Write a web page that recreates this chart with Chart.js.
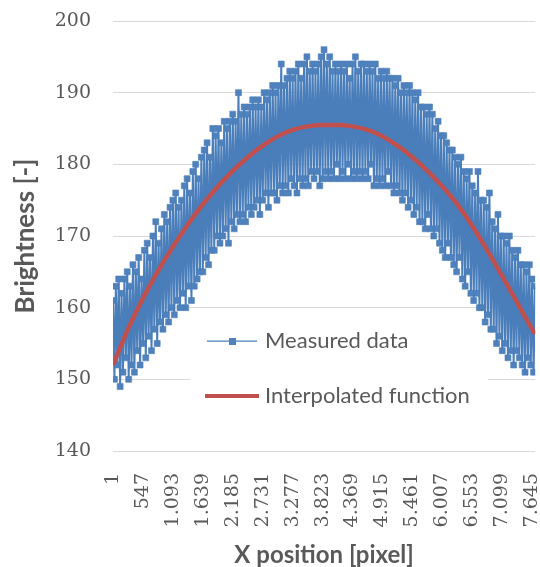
<!DOCTYPE html>
<html>
<head>
<meta charset="utf-8">
<script src="https://cdn.jsdelivr.net/npm/chart.js@4.4.0/dist/chart.umd.min.js"></script>
<style>
  html, body { margin: 0; padding: 0; background: #fff; }
  #wrap { width: 540px; height: 567px; }
</style>
</head>
<body>
<div id="wrap"><canvas id="chart" width="540" height="567"></canvas></div>
<script>
// measured brightness, one sample every SAMPLE_STEP pixels along X
const SAMPLE_START = 1;
const SAMPLE_STEP = 26;
const MEASURED = [
  161, 150, 163, 152, 164, 149, 162,  151, 164, 153, 165, 150, 163, 152,
  166, 151, 165, 154, 167, 152, 164,  155, 168, 153, 169, 156, 167, 154,
  170, 157, 172, 155, 169, 158, 171,  157, 173, 159, 172, 158, 174, 160,
  175, 159, 176, 161, 174, 160, 175,  162, 177, 160, 178, 163, 176, 161,
  179, 163, 180, 164, 178, 165, 181,  165, 182, 167, 183, 166, 181, 168,
  185, 168, 184, 170, 185, 169, 183,  170, 186, 171, 185, 169, 186, 172,
  187, 171, 186, 173, 190, 172, 187,  173, 188, 172, 187, 174, 188, 173,
  189, 174, 188, 175, 189, 173, 188,  175, 190, 176, 189, 174, 190, 176,
  191, 176, 190, 175, 191, 177, 194,  176, 191, 177, 192, 176, 193, 178,
  192, 177, 193, 176, 194, 178, 192,  177, 194, 178, 195, 177, 193, 179,
  194, 178, 193, 179, 194, 177, 195,  178, 196, 179, 194, 178, 195, 179,
  193, 178, 194, 180, 193, 178, 194,  179, 193, 178, 194, 180, 192, 178,
  194, 179, 195, 178, 193, 179, 194,  178, 194, 179, 193, 178, 194, 180,
  193, 177, 194, 178, 192, 177, 193,  178, 192, 177, 193, 179, 192, 177,
  192, 176, 191, 177, 192, 176, 190,  175, 191, 176, 190, 174, 191, 175,
  190, 173, 189, 174, 190, 172, 188,  172, 188, 171, 187, 173, 188, 171,
  187, 170, 185, 171, 186, 169, 184,  168, 184, 167, 183, 169, 182, 167,
  182, 166, 181, 165, 180, 167, 181,  164, 179, 163, 178, 165, 179, 162,
  177, 161, 176, 162, 179, 160, 175,  160, 175, 158, 174, 159, 176, 157,
  172, 157, 171, 155, 173, 156, 170,  154, 170, 155, 169, 153, 170, 154,
  168, 152, 167, 154, 168, 153, 166,  152, 166, 151, 165, 153, 166, 152,
  164, 151, 163
];

// interpolated function
const INTERP_X = [1, 274, 547, 820, 1093, 1366, 1639, 1912, 2185, 2458, 2731, 3004, 3277, 3550, 3823,
  4096, 4369, 4642, 4915, 5188, 5461, 5734, 6007, 6280, 6553, 6826, 7099, 7372, 7645, 7700];
const INTERP_Y = [152.0, 157.0, 161.3, 165.1, 168.5, 171.6, 174.4, 176.9, 179.1, 181.0, 182.6, 183.9, 184.8, 185.3, 185.5,
  185.5, 185.3, 184.8, 183.9, 182.6, 181.0, 179.1, 176.9, 174.4, 171.4, 168.0, 164.4, 160.7, 157.0, 156.3];

const X_TICKS = [1, 547, 1093, 1639, 2185, 2731, 3277, 3823, 4369, 4915, 5461, 6007, 6553, 7099, 7645];
const Y_TICKS = [140, 150, 160, 170, 180, 190, 200];

const TEXT = '#595959';
const BLUE = '#4a7ebb';
const RED = '#c0504d';

function fmtThousands(v) {
  if (v < 1000) return String(v);
  return Math.floor(v / 1000) + '.' + String(v % 1000).padStart(3, '0');
}

const insideLegend = {
  id: 'insideLegend',
  beforeDatasetsDraw(chart) {
    // legend box hides the gridlines behind it
    const { ctx } = chart;
    ctx.save();
    ctx.fillStyle = '#fff';
    ctx.fillRect(190, 318, 298, 102);
    ctx.restore();
  },
  afterDatasetsDraw(chart) {
    const { ctx } = chart;
    const sets = chart.data.datasets;
    ctx.save();

    ctx.strokeStyle = BLUE;
    ctx.lineWidth = 1.25;
    ctx.beginPath();
    ctx.moveTo(207, 341);
    ctx.lineTo(257, 341);
    ctx.stroke();
    ctx.fillStyle = '#4f81bd';
    ctx.fillRect(229, 338, 7, 7);

    ctx.strokeStyle = RED;
    ctx.lineWidth = 4;
    ctx.beginPath();
    ctx.moveTo(205, 396);
    ctx.lineTo(259, 396);
    ctx.stroke();

    ctx.fillStyle = TEXT;
    ctx.font = '22px Lato';
    ctx.textBaseline = 'middle';
    ctx.fillText(sets[1].label, 265, 341);
    ctx.fillText(sets[0].label, 265, 396);
    ctx.restore();
  }
};

new Chart(document.getElementById('chart'), {
  type: 'line',
  data: {
    datasets: [
      {
        label: 'Interpolated function',
        data: INTERP_X.map((x, i) => ({ x, y: INTERP_Y[i] })),
        borderColor: RED,
        borderWidth: 4.5,
        pointRadius: 0,
        cubicInterpolationMode: 'monotone',
        order: 0
      },
      {
        label: 'Measured data',
        data: MEASURED.map((y, k) => ({ x: SAMPLE_START + SAMPLE_STEP * k, y })),
        borderColor: BLUE,
        borderWidth: 2,
        pointStyle: 'rect',
        pointRadius: 4.2,
        pointBackgroundColor: '#4f81bd',
        pointBorderColor: BLUE,
        pointBorderWidth: 0.6,
        tension: 0,
        order: 1
      }
    ]
  },
  options: {
    responsive: false,
    animation: false,
    layout: { padding: { top: 21, right: 0, left: 0, bottom: 0 } },
    plugins: {
      legend: { display: false },
      tooltip: { enabled: false }
    },
    scales: {
      x: {
        type: 'linear',
        min: 1,
        max: 7700,
        afterBuildTicks: (scale) => { scale.ticks = X_TICKS.map((value) => ({ value })); },
        afterFit: (scale) => {
          scale.height = 116;
          scale.paddingLeft = 0;
          scale.paddingRight = 0;
        },
        grid: { display: false, drawTicks: false },
        border: { display: false },
        ticks: {
          minRotation: 90,
          maxRotation: 90,
          autoSkip: false,
          padding: 22,
          color: TEXT,
          font: { family: 'DejaVu Serif', size: 19 },
          callback: (v) => fmtThousands(v)
        },
        title: {
          display: true,
          text: 'X position [pixel]',
          color: TEXT,
          font: { family: 'Lato', size: 24, weight: 'bold', lineHeight: 1 },
          padding: { top: 0, bottom: 0 }
        }
      },
      y: {
        min: 140,
        max: 200,
        afterBuildTicks: (scale) => { scale.ticks = Y_TICKS.map((value) => ({ value })); },
        afterFit: (scale) => {
          scale.width = 113;
          scale.paddingTop = 0;
          scale.paddingBottom = 0;
        },
        grid: { color: '#d9d9d9', lineWidth: 1, drawTicks: false },
        border: { display: false },
        ticks: {
          padding: 22,
          color: TEXT,
          font: { family: 'DejaVu Serif', size: 19 }
        },
        title: {
          display: true,
          text: 'Brightness [-]',
          color: TEXT,
          font: { family: 'Lato', size: 26, weight: 'bold', lineHeight: 1.2 },
          padding: { top: 10, bottom: 0 }
        }
      }
    }
  },
  plugins: [insideLegend]
});
</script>
</body>
</html>
